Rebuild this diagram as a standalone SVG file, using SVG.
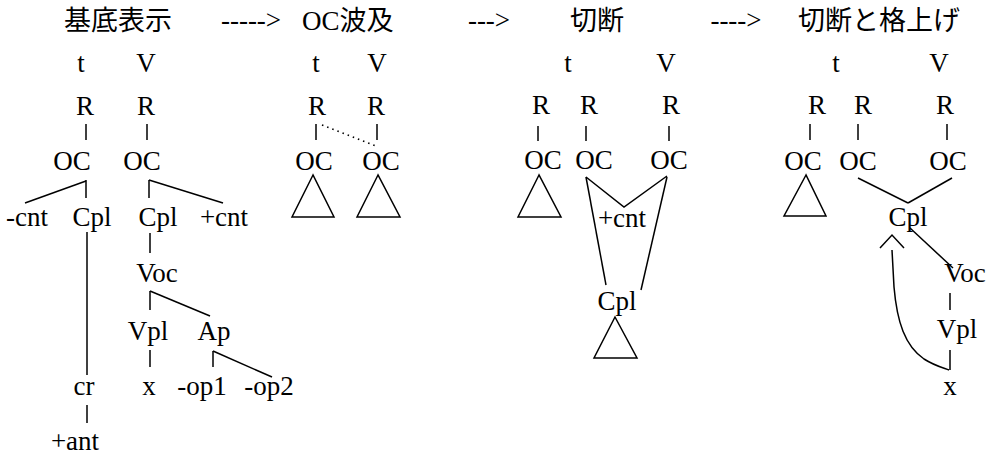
<svg xmlns="http://www.w3.org/2000/svg" width="989" height="457" viewBox="0 0 989 457">
<style>
text{font-family:'Liberation Serif','Times New Roman','DejaVu Serif','Noto Sans CJK JP',serif;font-size:27px;fill:#000;text-anchor:middle}
.ttl{font-size:27px}
.s{text-anchor:start}
line,polyline,path,polygon{stroke:#000;stroke-width:1.5;fill:none}
.dot{stroke-dasharray:1.5 4;stroke-width:1.6}
</style>
<rect width="989" height="457" fill="#fff"/>
<g id="titles">
<text class="ttl" x="118" y="30">基底表示</text>
<text x="251" y="29">-----&gt;</text>
<text class="ttl s" x="302" y="30">OC波及</text>
<text x="489" y="29">---&gt;</text>
<text class="ttl" x="597" y="30">切断</text>
<text x="736" y="29">----&gt;</text>
<text class="ttl" x="879" y="30">切断と格上げ</text>
</g>
<g id="connectors">
<line x1="86" y1="124" x2="86" y2="140"/>
<line x1="147" y1="124" x2="147" y2="140"/>
<line x1="86" y1="180" x2="86" y2="198"/>
<line x1="86" y1="181" x2="25" y2="203"/>
<line x1="149" y1="180" x2="149" y2="198"/>
<line x1="149" y1="180" x2="223" y2="203"/>
<line x1="87" y1="232" x2="87" y2="375"/>
<line x1="87" y1="405" x2="87" y2="423"/>
<line x1="150" y1="233" x2="150" y2="253"/>
<line x1="150" y1="291" x2="150" y2="310"/>
<line x1="150" y1="291" x2="210" y2="316"/>
<line x1="150" y1="350" x2="150" y2="367"/>
<line x1="213" y1="351" x2="213" y2="367"/>
<line x1="213" y1="351" x2="272" y2="377"/>
<line x1="316" y1="124" x2="316" y2="140"/>
<line x1="377" y1="124" x2="377" y2="140"/>
<line class="dot" x1="322" y1="125" x2="376" y2="146"/>
<line x1="538" y1="126" x2="538" y2="141"/>
<line x1="586" y1="126" x2="586" y2="141"/>
<line x1="669" y1="126" x2="669" y2="141"/>
<polyline points="586,177 624,207 667,176"/>
<line x1="586" y1="177" x2="606" y2="285"/>
<line x1="667" y1="177" x2="641" y2="290"/>
<line x1="810" y1="124" x2="810" y2="140"/>
<line x1="858" y1="124" x2="858" y2="140"/>
<line x1="947" y1="124" x2="947" y2="140"/>
<line x1="858" y1="178" x2="908" y2="203"/>
<line x1="952" y1="178" x2="908" y2="203"/>
<line x1="910" y1="228" x2="953" y2="268"/>
<line x1="950" y1="293" x2="950" y2="310"/>
<line x1="950" y1="350" x2="950" y2="370"/>
<polyline points="880,248 892,235 904,248"/>
<path d="M892,250 L894,287 C897,322 905,346 924,359 C935,366 944,368 949,370"/>
</g>
<g id="p1-t"><text x="81" y="72">t</text></g>
<g id="p1-V"><text x="146" y="72">V</text></g>
<g id="p1-R1"><text x="85" y="115">R</text></g>
<g id="p1-R2"><text x="146" y="115">R</text></g>
<g id="p1-OC1"><text x="72" y="170">OC</text></g>
<g id="p1-OC2"><text x="142" y="170">OC</text></g>
<g id="p1-cnt-minus"><text x="27" y="226">-cnt</text></g>
<g id="p1-Cpl1"><text x="92" y="226">Cpl</text></g>
<g id="p1-Cpl2"><text x="158" y="226">Cpl</text></g>
<g id="p1-cnt-plus"><text x="224" y="226">+cnt</text></g>
<g id="p1-Voc"><text x="157" y="282">Voc</text></g>
<g id="p1-Vpl"><text x="148" y="340">Vpl</text></g>
<g id="p1-Ap"><text x="214" y="340">Ap</text></g>
<g id="p1-cr"><text x="84" y="395">cr</text></g>
<g id="p1-x"><text x="149" y="395">x</text></g>
<g id="p1-op1"><text x="202" y="395">-op1</text></g>
<g id="p1-op2"><text x="269" y="395">-op2</text></g>
<g id="p1-ant"><text x="75" y="450">+ant</text></g>
<g id="p2-t"><text x="316" y="72">t</text></g>
<g id="p2-V"><text x="377" y="72">V</text></g>
<g id="p2-R1"><text x="317" y="115">R</text></g>
<g id="p2-R2"><text x="376" y="115">R</text></g>
<g id="p2-OC1"><text x="314" y="170">OC</text><polygon points="313,175 292,217 334,217"/></g>
<g id="p2-OC2"><text x="381" y="170">OC</text><polygon points="378,175 357,217 400,217"/></g>
<g id="p3-t"><text x="568" y="72">t</text></g>
<g id="p3-V"><text x="666" y="72">V</text></g>
<g id="p3-R1"><text x="541" y="114">R</text></g>
<g id="p3-R2"><text x="589" y="114">R</text></g>
<g id="p3-R3"><text x="671" y="114">R</text></g>
<g id="p3-OC1"><text x="543" y="169">OC</text><polygon points="539,175 518,217 561,217"/></g>
<g id="p3-OC2"><text x="594" y="169">OC</text></g>
<g id="p3-OC3"><text x="669" y="169">OC</text></g>
<g id="p3-cnt"><text x="622" y="227">+cnt</text></g>
<g id="p3-Cpl"><text x="617" y="310">Cpl</text><polygon points="615,317 594,358 637,358"/></g>
<g id="p4-t"><text x="836" y="72">t</text></g>
<g id="p4-V"><text x="939" y="72">V</text></g>
<g id="p4-R1"><text x="817" y="114">R</text></g>
<g id="p4-R2"><text x="863" y="114">R</text></g>
<g id="p4-R3"><text x="945" y="114">R</text></g>
<g id="p4-OC1"><text x="803" y="170">OC</text><polygon points="806,175 784,216 826,216"/></g>
<g id="p4-OC2"><text x="858" y="170">OC</text></g>
<g id="p4-OC3"><text x="948" y="170">OC</text></g>
<g id="p4-Cpl"><text x="908" y="226">Cpl</text></g>
<g id="p4-Voc"><text x="965" y="282">Voc</text></g>
<g id="p4-Vpl"><text x="957" y="338">Vpl</text></g>
<g id="p4-x"><text x="950" y="395">x</text></g>
</svg>
